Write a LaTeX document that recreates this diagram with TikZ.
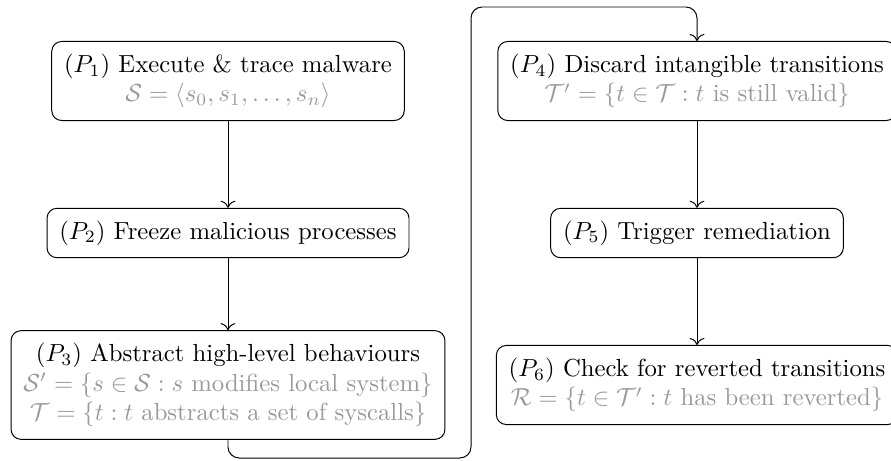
\documentclass[tikz,border=0pt]{standalone}
\usepackage{amsmath,amssymb}
\usetikzlibrary{arrows.meta}
\colorlet{formula}{black!40}
\begin{document}
\begin{tikzpicture}[x=0.4049pt,y=-0.4049pt,
  stepbox/.style={draw, rounded corners=4pt, align=center, inner sep=5pt},
  flow/.style={-{To[scale=1.15]}}]
\useasboundingbox (0,0) rectangle (891,460);
\node[stepbox] (p1) at (228,81) {$(P_1)$ Execute \& trace malware\\ \textcolor{formula}{$\mathcal{S}=\langle s_0,s_1,\ldots,s_n\rangle$}};
\node[stepbox] (p2) at (228,233) {$(P_2)$ Freeze malicious processes};
\node[stepbox] (p3) at (228,385) {$(P_3)$ Abstract high-level behaviours\\ \textcolor{formula}{$\mathcal{S}'=\{s\in\mathcal{S}: s \text{ modifies local system}\}$}\\ \textcolor{formula}{$\mathcal{T}=\{t: t \text{ abstracts a set of syscalls}\}$}};
\node[stepbox] (p4) at (697,81) {$(P_4)$ Discard intangible transitions\\ \textcolor{formula}{$\mathcal{T}'=\{t\in\mathcal{T}: t \text{ is still valid}\}$}};
\node[stepbox] (p5) at (697,233) {$(P_5)$ Trigger remediation};
\node[stepbox] (p6) at (697,385) {$(P_6)$ Check for reverted transitions\\ \textcolor{formula}{$\mathcal{R}=\{t\in\mathcal{T}': t \text{ has been reverted}\}$}};
\coordinate (lo) at (471,458);
\coordinate (hi) at (697,7);
\draw[flow] (p1) -- (p2);
\draw[flow] (p2) -- (p3);
\draw[flow] (p4) -- (p5);
\draw[flow] (p5) -- (p6);
\draw[flow, rounded corners=4.5pt] (p3.south) |- (lo) |- (hi) -- (p4.north);
\end{tikzpicture}
\end{document}
